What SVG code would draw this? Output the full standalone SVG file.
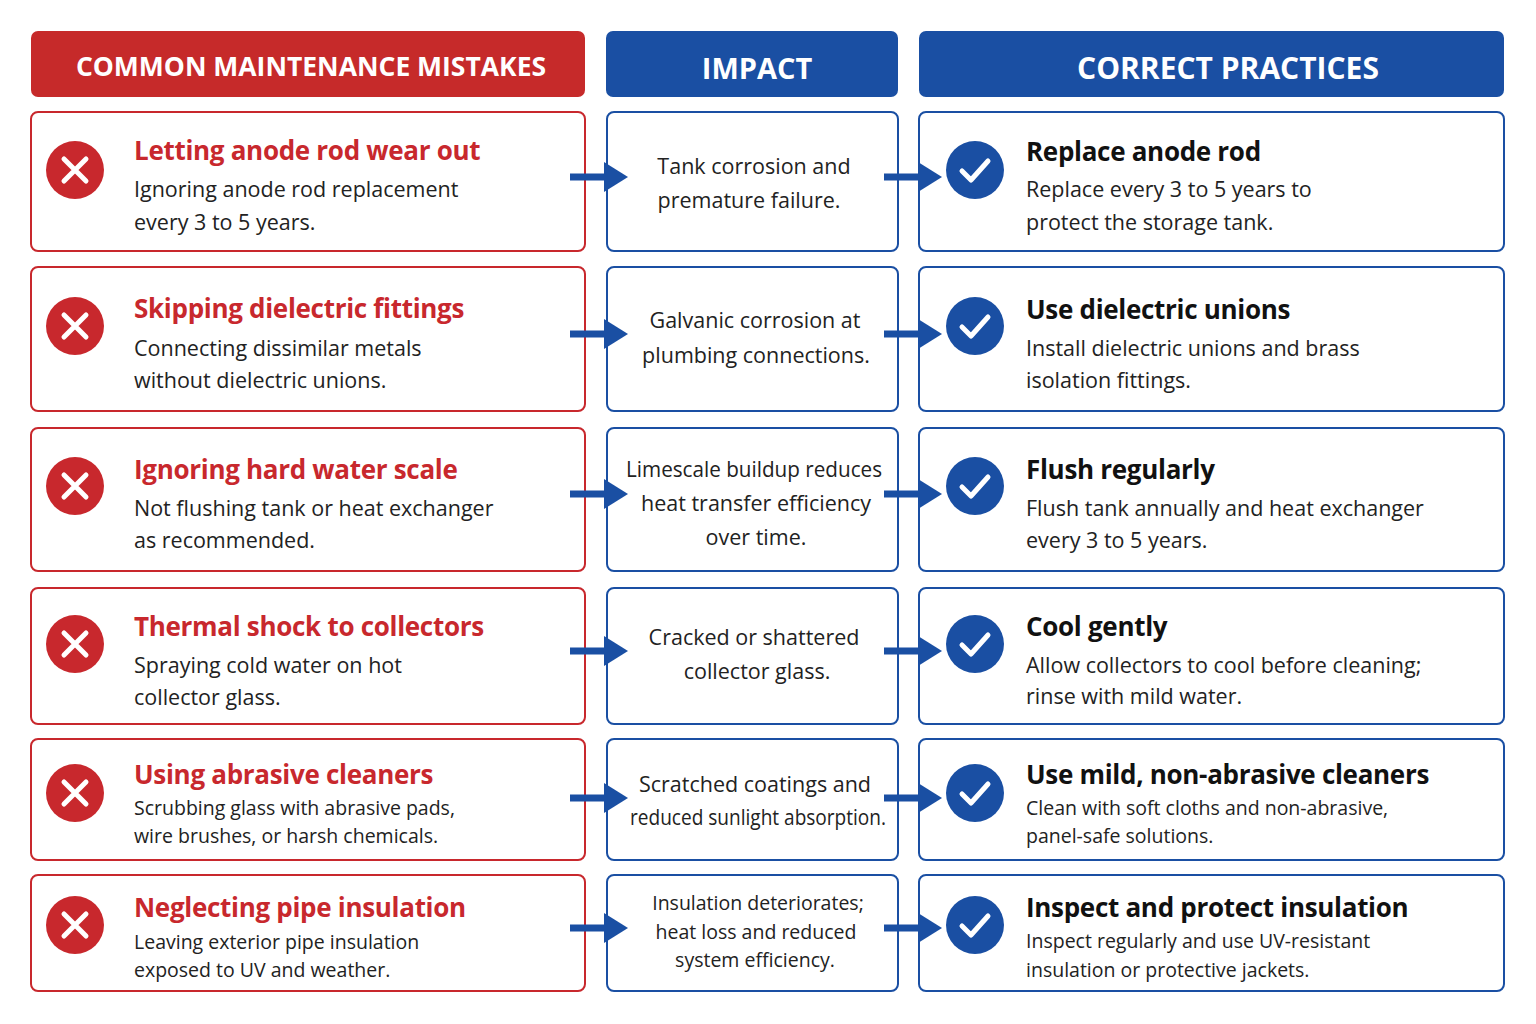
<svg xmlns="http://www.w3.org/2000/svg" width="1536" height="1024" viewBox="0 0 1536 1024">
<defs>
<style>
.hr{fill:#c62a2a}.hb{fill:#1a4fa3}
.ht{font-family:"Open Sans","Liberation Sans",sans-serif;font-weight:700;fill:#fff;text-anchor:middle;dominant-baseline:central}
.bl{fill:#fff;stroke:#c8282d;stroke-width:2}
.bb{fill:#fff;stroke:#1a4fa3;stroke-width:2}
.t{font-family:"Open Sans","Liberation Sans",sans-serif;dominant-baseline:central}
.tr{font-weight:700;font-size:26px;fill:#c8282d;letter-spacing:-0.3px}
.tk{font-weight:700;font-size:26px;fill:#111;letter-spacing:-0.3px}
.d{font-size:21.5px;fill:#222}
.ds{font-size:19.5px;fill:#222}
.m{font-size:21.5px;fill:#222;text-anchor:middle}
.ms{font-size:19.5px;fill:#222;text-anchor:middle}
.ar{stroke:#1a4fa3;stroke-width:7;fill:none}
</style>
<g id="xicon"><circle r="29" fill="#c8282d"/><path d="M-11,-11 L11,11 M11,-11 L-11,11" stroke="#fff" stroke-width="5" stroke-linecap="round"/></g>
<g id="cicon"><circle r="29" fill="#1a4fa3"/><path d="M-13,1 L-4,10 L13,-9" stroke="#fff" stroke-width="5" fill="none" stroke-linecap="round" stroke-linejoin="round"/></g>
<g id="arrow"><path class="ar" d="M0,0 H36"/><path d="M34,-15 L58,0 L34,15 Z" fill="#1a4fa3"/></g>
</defs>
<rect width="1536" height="1024" fill="#fff"/>
<g id="headers">
<rect class="hr" x="31" y="31" width="554" height="66" rx="7"/>
<text class="ht" x="311" y="66" font-size="26.5">COMMON MAINTENANCE MISTAKES</text>
<rect class="hb" x="606" y="31" width="292" height="66" rx="7"/>
<text class="ht" x="757" y="67" font-size="29">IMPACT</text>
<rect class="hb" x="919" y="31" width="585" height="66" rx="7"/>
<text class="ht" x="1228" y="67" font-size="30">CORRECT PRACTICES</text>
</g>
<g id="row1">
<rect class="bl" x="31" y="112" width="554" height="139" rx="7"/><use href="#xicon" x="75" y="170"/>
<text class="t tr" x="134" y="150">Letting anode rod wear out</text>
<text class="t d" x="134" y="188">Ignoring anode rod replacement</text><text class="t d" x="134" y="221">every 3 to 5 years.</text>
<rect class="bb" x="607" y="112" width="291" height="139" rx="7"/>
<text class="t m" x="754" y="165">Tank corrosion and</text><text class="t m" x="749" y="199">premature failure.</text>
<rect class="bb" x="919" y="112" width="585" height="139" rx="7"/><use href="#cicon" x="975" y="170"/>
<text class="t tk" x="1026" y="151">Replace anode rod</text>
<text class="t d" x="1026" y="188">Replace every 3 to 5 years to</text><text class="t d" x="1026" y="221">protect the storage tank.</text>
</g>
<g id="row2">
<rect class="bl" x="31" y="267" width="554" height="144" rx="7"/><use href="#xicon" x="75" y="326"/>
<text class="t tr" x="134" y="308">Skipping dielectric fittings</text>
<text class="t d" x="134" y="347">Connecting dissimilar metals</text><text class="t d" x="134" y="379">without dielectric unions.</text>
<rect class="bb" x="607" y="267" width="291" height="144" rx="7"/>
<text class="t m" x="755" y="319">Galvanic corrosion at</text><text class="t m" x="756" y="354">plumbing connections.</text>
<rect class="bb" x="919" y="267" width="585" height="144" rx="7"/><use href="#cicon" x="975" y="326"/>
<text class="t tk" x="1026" y="309">Use dielectric unions</text>
<text class="t d" x="1026" y="347">Install dielectric unions and brass</text><text class="t d" x="1026" y="379">isolation fittings.</text>
</g>
<g id="row3">
<rect class="bl" x="31" y="428" width="554" height="143" rx="7"/><use href="#xicon" x="75" y="486"/>
<text class="t tr" x="134" y="469">Ignoring hard water scale</text>
<text class="t d" x="134" y="507">Not flushing tank or heat exchanger</text><text class="t d" x="134" y="539">as recommended.</text>
<rect class="bb" x="607" y="428" width="291" height="143" rx="7"/>
<text class="t m" x="754" y="468" textLength="256" lengthAdjust="spacingAndGlyphs">Limescale buildup reduces</text><text class="t m" x="756" y="502">heat transfer efficiency</text><text class="t m" x="756" y="536">over time.</text>
<rect class="bb" x="919" y="428" width="585" height="143" rx="7"/><use href="#cicon" x="975" y="486"/>
<text class="t tk" x="1026" y="469">Flush regularly</text>
<text class="t d" x="1026" y="507">Flush tank annually and heat exchanger</text><text class="t d" x="1026" y="539">every 3 to 5 years.</text>
</g>
<g id="row4">
<rect class="bl" x="31" y="588" width="554" height="136" rx="7"/><use href="#xicon" x="75" y="644"/>
<text class="t tr" x="134" y="626">Thermal shock to collectors</text>
<text class="t d" x="134" y="664">Spraying cold water on hot</text><text class="t d" x="134" y="696">collector glass.</text>
<rect class="bb" x="607" y="588" width="291" height="136" rx="7"/>
<text class="t m" x="754" y="636">Cracked or shattered</text><text class="t m" x="757" y="670">collector glass.</text>
<rect class="bb" x="919" y="588" width="585" height="136" rx="7"/><use href="#cicon" x="975" y="644"/>
<text class="t tk" x="1026" y="626">Cool gently</text>
<text class="t d" x="1026" y="664">Allow collectors to cool before cleaning;</text><text class="t d" x="1026" y="695">rinse with mild water.</text>
</g>
<g id="row5">
<rect class="bl" x="31" y="739" width="554" height="121" rx="7"/><use href="#xicon" x="75" y="793"/>
<text class="t tr" x="134" y="774">Using abrasive cleaners</text>
<text class="t ds" x="134" y="807">Scrubbing glass with abrasive pads,</text><text class="t ds" x="134" y="835">wire brushes, or harsh chemicals.</text>
<rect class="bb" x="607" y="739" width="291" height="121" rx="7"/>
<text class="t m" x="755" y="783">Scratched coatings and</text><text class="t m" x="758" y="816" textLength="256" lengthAdjust="spacingAndGlyphs">reduced sunlight absorption.</text>
<rect class="bb" x="919" y="739" width="585" height="121" rx="7"/><use href="#cicon" x="975" y="793"/>
<text class="t tk" x="1026" y="774">Use mild, non-abrasive cleaners</text>
<text class="t ds" x="1026" y="807">Clean with soft cloths and non-abrasive,</text><text class="t ds" x="1026" y="835">panel-safe solutions.</text>
</g>
<g id="row6">
<rect class="bl" x="31" y="875" width="554" height="116" rx="7"/><use href="#xicon" x="75" y="925"/>
<text class="t tr" x="134" y="907">Neglecting pipe insulation</text>
<text class="t ds" x="134" y="941">Leaving exterior pipe insulation</text><text class="t ds" x="134" y="969">exposed to UV and weather.</text>
<rect class="bb" x="607" y="875" width="291" height="116" rx="7"/>
<text class="t ms" x="758" y="902">Insulation deteriorates;</text><text class="t ms" x="756" y="931">heat loss and reduced</text><text class="t ms" x="755" y="959">system efficiency.</text>
<rect class="bb" x="919" y="875" width="585" height="116" rx="7"/><use href="#cicon" x="975" y="925"/>
<text class="t tk" x="1026" y="907" font-size="24">Inspect and protect insulation</text>
<text class="t ds" x="1026" y="940">Inspect regularly and use UV-resistant</text><text class="t ds" x="1026" y="969">insulation or protective jackets.</text>
</g>
<g id="connectors">
<use href="#arrow" x="570" y="177"/><use href="#arrow" x="884" y="177"/>
<use href="#arrow" x="570" y="334"/><use href="#arrow" x="884" y="334"/>
<use href="#arrow" x="570" y="494"/><use href="#arrow" x="884" y="494"/>
<use href="#arrow" x="570" y="651"/><use href="#arrow" x="884" y="651"/>
<use href="#arrow" x="570" y="798"/><use href="#arrow" x="884" y="798"/>
<use href="#arrow" x="570" y="928"/><use href="#arrow" x="884" y="928"/>
</g>
</svg>
